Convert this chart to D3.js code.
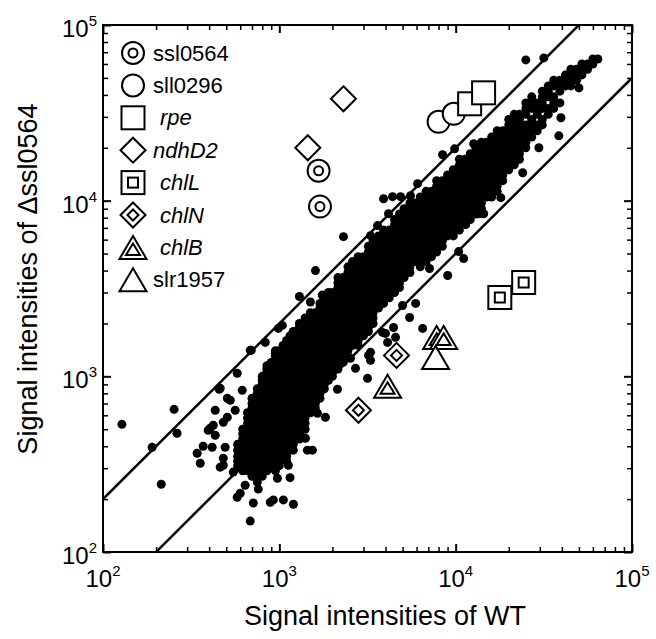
<!DOCTYPE html>
<html lang="en">
<head>
<meta charset="utf-8">
<script src="https://d3js.org/d3.v7.min.js"></script>
<style>
  body { margin: 0; background: #fff; }
  svg { display: block; font-family: "Liberation Sans", Arial, sans-serif; }
</style>
</head>
<body>
<svg width="656" height="639"></svg>
<script>
  // signal intensities: [WT, mutant]
  // dense cloud, one WT value per column with the mutant values that fill it
  var cloudCols = [
    [580,[310,330,350,380,410]],
    [620,[290,310,330,350,380,410,440,470,500]],
    [660,[290,310,330,350,380,410,440,470,500,540,580,620]],
    [700,[270,290,310,330,350,380,410,440,470,500,540,580,620,660,700,750]],
    [750,[250,270,290,310,330,350,380,410,440,470,500,540,580,620,660,700,750,800,850]],
    [800,[270,290,310,330,350,380,410,440,470,500,540,580,620,660,700,750,800,850,900,950,1000]],
    [850,[290,310,330,350,380,410,440,470,500,540,580,620,660,700,750,800,850,900,950,1000,1050,1100,1150]],
    [900,[310,330,350,380,410,440,470,500,540,580,620,660,700,750,800,850,900,950,1000,1050,1100,1150,1200]],
    [950,[290,310,330,350,380,410,440,470,500,540,580,620,660,700,750,800,850,900,950,1000,1050,1100,1150,1200,1300,1400]],
    [1000,[310,330,350,380,410,440,470,500,540,580,620,660,700,750,800,850,900,950,1000,1050,1100,1150,1200,1300,1400]],
    [1050,[350,380,410,440,470,500,540,580,620,660,700,750,800,850,900,950,1000,1050,1100,1150,1200,1300,1400,1500]],
    [1100,[330,350,380,410,440,470,500,540,580,620,660,700,750,800,850,900,950,1000,1050,1100,1150,1200,1300,1400,1500,1600]],
    [1150,[380,410,440,470,500,540,580,620,660,700,750,800,850,900,950,1000,1050,1100,1150,1200,1300,1400,1500,1600,1700]],
    [1200,[380,410,440,470,500,540,580,620,660,700,750,800,850,900,950,1000,1050,1100,1150,1200,1300,1400,1500,1600,1700,1800]],
    [1300,[440,470,500,540,580,620,660,700,750,800,850,900,950,1000,1050,1100,1150,1200,1300,1400,1500,1600,1700,1800,1900,2000]],
    [1400,[500,540,580,620,660,700,750,800,850,900,950,1000,1050,1100,1150,1200,1300,1400,1500,1600,1700,1800,1900,2000,2150]],
    [1500,[620,660,700,750,800,850,900,950,1000,1050,1100,1150,1200,1300,1400,1500,1600,1700,1800,1900,2000,2150,2300]],
    [1600,[660,700,750,800,850,900,950,1000,1050,1100,1150,1200,1300,1400,1500,1600,1700,1800,1900,2000,2150,2300]],
    [1700,[750,800,850,900,950,1000,1050,1100,1150,1200,1300,1400,1500,1600,1700,1800,1900,2000,2150,2300,2450,2600]],
    [1800,[850,900,950,1000,1050,1100,1150,1200,1300,1400,1500,1600,1700,1800,1900,2000,2150,2300,2450,2600,2800]],
    [1900,[950,1000,1050,1100,1150,1200,1300,1400,1500,1600,1700,1800,1900,2000,2150,2300,2450,2600,2800,3000]],
    [2000,[1000,1050,1100,1150,1200,1300,1400,1500,1600,1700,1800,1900,2000,2150,2300,2450,2600,2800,3000]],
    [2150,[1100,1150,1200,1300,1400,1500,1600,1700,1800,1900,2000,2150,2300,2450,2600,2800,3000,3200,3400,3650]],
    [2300,[1200,1300,1400,1500,1600,1700,1800,1900,2000,2150,2300,2450,2600,2800,3000,3200,3400,3650]],
    [2450,[1300,1400,1500,1600,1700,1800,1900,2000,2150,2300,2450,2600,2800,3000,3200,3400,3650,3900,4200]],
    [2600,[1500,1600,1700,1800,1900,2000,2150,2300,2450,2600,2800,3000,3200,3400,3650,3900,4200,4500]],
    [2800,[1500,1600,1700,1800,1900,2000,2150,2300,2450,2600,2800,3000,3200,3400,3650,3900,4200,4500,4800]],
    [3000,[1700,1800,1900,2000,2150,2300,2450,2600,2800,3000,3200,3400,3650,3900,4200,4500,4800]],
    [3200,[1800,1900,2000,2150,2300,2450,2600,2800,3000,3200,3400,3650,3900,4200,4500,4800,5100,5500]],
    [3400,[2000,2150,2300,2450,2600,2800,3000,3200,3400,3650,3900,4200,4500,4800,5100,5500,5900]],
    [3650,[2450,2600,2800,3000,3200,3400,3650,3900,4200,4500,4800,5100,5500,5900,6300]],
    [3900,[2600,2800,3000,3200,3400,3650,3900,4200,4500,4800,5100,5500,5900,6300,6800]],
    [4200,[2800,3000,3200,3400,3650,3900,4200,4500,4800,5100,5500,5900,6300,6800]],
    [4500,[3000,3200,3400,3650,3900,4200,4500,4800,5100,5500,5900,6300,6800,7300,7800]],
    [4800,[3200,3400,3650,3900,4200,4500,4800,5100,5500,5900,6300,6800,7300,7800,8400]],
    [5100,[3650,3900,4200,4500,4800,5100,5500,5900,6300,6800,7300,7800,8400,9000]],
    [5500,[3900,4200,4500,4800,5100,5500,5900,6300,6800,7300,7800,8400,9000,9700]],
    [5900,[4500,4800,5100,5500,5900,6300,6800,7300,7800,8400,9000,9700]],
    [6300,[4200,4500,4800,5100,5500,5900,6300,6800,7300,7800,8400,9000,9700,10500]],
    [6800,[4500,4800,5100,5500,5900,6300,6800,7300,7800,8400,9000,9700,10500,11300]],
    [7300,[4800,5100,5500,5900,6300,6800,7300,7800,8400,9000,9700,10500,11300]],
    [7800,[5100,5500,5900,6300,6800,7300,7800,8400,9000,9700,10500,11300,12100,13000]],
    [8400,[5500,5900,6300,6800,7300,7800,8400,9000,9700,10500,11300,12100,13000]],
    [9000,[6300,6800,7300,7800,8400,9000,9700,10500,11300,12100,13000,14000]],
    [9700,[6300,6800,7300,7800,8400,9000,9700,10500,11300,12100,13000,14000,15000]],
    [10500,[6800,7300,7800,8400,9000,9700,10500,11300,12100,13000,14000,15000,16000,17200]],
    [11300,[7800,8400,9000,9700,10500,11300,12100,13000,14000,15000,16000,17200]],
    [12100,[7800,8400,9000,9700,10500,11300,12100,13000,14000,15000,16000,17200,18500]],
    [13000,[8400,9000,9700,10500,11300,12100,13000,14000,15000,16000,17200,18500,20000]],
    [14000,[9000,9700,10500,11300,12100,13000,14000,15000,16000,17200,18500,20000,21500]],
    [15000,[10500,11300,12100,13000,14000,15000,16000,17200,18500,20000,21500]],
    [16000,[10500,11300,12100,13000,14000,15000,16000,17200,18500,20000,21500,23000]],
    [17200,[11300,12100,13000,14000,15000,16000,17200,18500,20000,21500,23000,25000]],
    [18500,[13000,14000,15000,16000,17200,18500,20000,21500,23000,25000]],
    [20000,[15000,16000,17200,18500,20000,21500,23000,25000,27000,29000]],
    [21500,[16000,17200,18500,20000,21500,23000,25000,27000,29000,31000]],
    [23000,[17200,18500,20000,21500,23000,25000,27000,29000,31000]],
    [25000,[20000,21500,23000,25000,27000,31000,33500,36000]],
    [27000,[23000,25000,27000,29000,33500,36000,39000]],
    [29000,[25000,27000,31000,33500,36000]],
    [31000,[27000,29000,33500,36000,39000,42000]],
    [33500,[31000,33500,39000,42000,45000]],
    [36000,[33500,36000,39000,45000,48500]],
    [39000,[36000,42000,45000,48500]],
    [42000,[45000,48500,52000]],
    [45000,[45000,48500,52000,56000]],
    [48500,[48500,52000,56000]],
    [52000,[52000,56000,60000]],
    [56000,[56000,60000]],
    [60000,[60000,64000]],
    [64000,[64000]]
  ];

  // genes lying apart from the cloud
  var looseGenes = [
    [128,533],[190,395],[214,243],[253,649],[263,474],[342,365],[356,320],[370,400],[416,395],[433,641],
    [395,493],[456,844],[577,1040],[684,1406],[832,1560],[1040,1950],[527,731],[507,585],[422,527],[462,304],
    [548,285],[600,216],[712,190],[684,150],[925,198],[1054,198],[1202,187],[577,205],[405,506],[481,312],
    [507,750],[889,192],[975,263],[1125,312],[1442,380],[1406,444],[1645,616],[1825,585],[2136,844],[1540,380],
    [1300,2849],[1603,4000],[987,1874],[693,1406],[462,855],[949,1352],[616,832],[562,641],[481,548],[433,462],
    [493,395],[481,342],[640,240],[760,228],[1150,265],[1500,2650],[1750,2900],
    [2703,1110],[3206,1316],[3162,974],[5930,2600],[5480,2163],[4443,1897],[5000,2531],[4110,1560],[4560,1667],
    [3290,1233],[6500,1874],[4000,1755],[2531,1266],[3849,1778],[3290,1369],
    [25000,63300],[31620,64940],[50000,43850],[39540,29640],[38460,23400],[29640,20000],[24000,14420],[18030,10400],
    [13520,8430],[14420,8430],[11400,7300],[10400,5130],[11100,4680],[9010,3750],[7110,4110],[3900,10260],
    [4385,10540],[4870,10540],[5546,10670],[6080,12500],[8430,18250],[9860,19730],[2311,6240],[12650,21080],
    [4160,8430],[3605,7210],[3290,6320]
  ];

  // marked genes
  var geneNames = ["ssl0564", "sll0296", "rpe", "ndhD2", "chlL", "chlN", "chlB", "slr1957"];
  var geneWT  = [[1670, 1700], [8000, 9750], [12000, 14400], [2310, 1450], [17800, 24300], [4620, 2810], [7800, 8550, 4110], [7690]];
  var geneMut = [[14800, 9250], [28100, 31200], [35600, 41100], [38000, 20000], [2810, 3420], [1316, 641], [1666, 1666, 877], [1282]];

  var foldLines = [2, 0.5];          // mutant = 2 x WT and 0.5 x WT
  var majorTicks = [1e2, 1e3, 1e4, 1e5];

  var svg = d3.select("svg");
  var plotL = 103, plotR = 632, plotT = 25, plotB = 552;

  var x = d3.scaleLog().domain([1e2, 1e5]).range([plotL, plotR]);
  var y = d3.scaleLog().domain([1e2, 1e5]).range([plotB, plotT]);

  svg.append("clipPath").attr("id", "plotClip").append("rect")
    .attr("x", plotL).attr("y", plotT).attr("width", plotR - plotL).attr("height", plotB - plotT);

  // all the genes
  var dots = [];
  cloudCols.forEach(function(c) {
    c[1].forEach(function(v) { dots.push([c[0], v]); });
  });
  looseGenes.forEach(function(d) { dots.push(d); });

  svg.append("g").attr("clip-path", "url(#plotClip)")
    .selectAll("circle").data(dots).enter().append("circle")
    .attr("cx", function(d) { return x(d[0]); })
    .attr("cy", function(d) { return y(d[1]); })
    .attr("r", 4.5)
    .attr("fill", "#000");

  // two-fold lines
  svg.append("g").attr("clip-path", "url(#plotClip)")
    .selectAll("line").data(foldLines).enter().append("line")
    .attr("x1", x(1e2)).attr("y1", function(d) { return y(1e2 * d); })
    .attr("x2", x(1e5)).attr("y2", function(d) { return y(1e5 * d); })
    .attr("stroke", "#000").attr("stroke-width", 2.5);

  // symbols
  var markerKinds = ["dcircle", "circle", "square", "diamond", "dsquare", "ddiamond", "dtriangle", "triangle"];

  function drawMarker(g, kind) {
    function add(tag) {
      return g.append(tag).attr("fill", "#fff").attr("stroke", "#000").attr("stroke-width", 2);
    }
    function sq(h) { add("rect").attr("x", -h).attr("y", -h).attr("width", 2 * h).attr("height", 2 * h); }
    function dia(h) { add("path").attr("d", "M0," + (-h) + "L" + h + ",0L0," + h + "L" + (-h) + ",0Z"); }
    if (kind === "dcircle") { add("circle").attr("r", 11); add("circle").attr("r", 4.5); }
    if (kind === "circle") { add("circle").attr("r", 11); }
    if (kind === "square") { sq(11.5); }
    if (kind === "diamond") { dia(12.5); }
    if (kind === "dsquare") { sq(11.5); sq(5); }
    if (kind === "ddiamond") { dia(12.5); dia(5.5); }
    if (kind === "dtriangle" || kind === "triangle") {
      add("path").attr("d", "M0,-11.5L13.5,11.5L-13.5,11.5Z");
      if (kind === "dtriangle") add("path").attr("d", "M0,-4L7,7.5L-7,7.5Z");
    }
  }

  geneNames.forEach(function(name, i) {
    geneWT[i].forEach(function(wt, j) {
      var g = svg.append("g").attr("transform", "translate(" + x(wt) + "," + y(geneMut[i][j]) + ")");
      drawMarker(g, markerKinds[i]);
    });
  });

  // legend
  var italicNames = ["rpe", "ndhD2", "chlL", "chlN", "chlB"];
  geneNames.forEach(function(name, i) {
    var cy = 53 + i * 32.4;
    var g = svg.append("g").attr("transform", "translate(133," + cy + ")");
    drawMarker(g, markerKinds[i]);
    var shift = (italicNames.indexOf(name) >= 0 && name !== "ndhD2") ? 7 : 0;
    svg.append("text")
      .attr("x", 153 + shift).attr("y", cy + 7.5)
      .attr("font-size", 22)
      .attr("font-style", italicNames.indexOf(name) >= 0 ? "italic" : "normal")
      .text(name);
  });

  // frame
  svg.append("rect")
    .attr("x", plotL).attr("y", plotT).attr("width", plotR - plotL).attr("height", plotB - plotT)
    .attr("fill", "none").attr("stroke", "#000").attr("stroke-width", 2);

  // inward ticks on all four sides
  var minorTicks = x.ticks().filter(function(v) { return majorTicks.indexOf(v) < 0; });
  function tickSet(axis, tr, vals, size, sw) {
    var g = svg.append("g").attr("transform", tr)
      .call(axis.tickValues(vals).tickSize(-size).tickFormat(""));
    g.select(".domain").remove();
    g.selectAll(".tick line").attr("stroke", "#000").attr("stroke-width", sw);
  }
  [[majorTicks, 8, 2], [minorTicks, 5, 1.5]].forEach(function(t) {
    tickSet(d3.axisBottom(x), "translate(0," + plotB + ")", t[0], t[1], t[2]);
    tickSet(d3.axisTop(x), "translate(0," + plotT + ")", t[0], t[1], t[2]);
    tickSet(d3.axisLeft(y), "translate(" + plotL + ",0)", t[0], t[1], t[2]);
    tickSet(d3.axisRight(y), "translate(" + plotR + ",0)", t[0], t[1], t[2]);
  });

  // tick labels as powers of ten
  var xl = svg.append("g").selectAll("text").data(majorTicks).enter().append("text")
    .attr("x", function(d) { return x(d); }).attr("y", 587)
    .attr("text-anchor", "middle").attr("font-size", 24);
  xl.append("tspan").text("10");
  xl.append("tspan").attr("dy", -11).attr("font-size", 15)
    .text(function(d) { return Math.round(Math.log10(d)); });

  var yl = svg.append("g").selectAll("text").data(majorTicks).enter().append("text")
    .attr("x", 97).attr("y", function(d) { return y(d) + 12; })
    .attr("text-anchor", "end").attr("font-size", 24);
  yl.append("tspan").text("10");
  yl.append("tspan").attr("dy", -11).attr("font-size", 15)
    .text(function(d) { return Math.round(Math.log10(d)); });

  // axis titles
  svg.append("text")
    .attr("x", 385).attr("y", 625)
    .attr("text-anchor", "middle").attr("font-size", 27)
    .text("Signal intensities of WT");

  svg.append("text")
    .attr("transform", "translate(37,279) rotate(-90)")
    .attr("text-anchor", "middle").attr("font-size", 27)
    .text("Signal intensities of \u0394ssl0564");
</script>
</body>
</html>
